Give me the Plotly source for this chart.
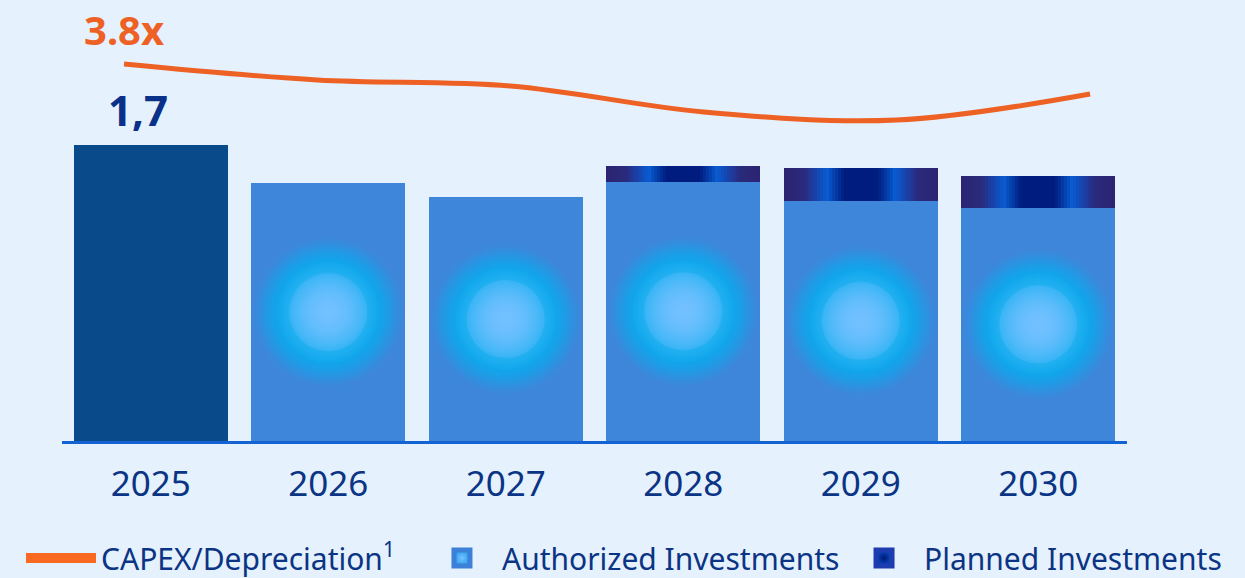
import plotly.graph_objects as go

# ---------------- data ----------------
years = [2025, 2026, 2027, 2028, 2029, 2030]
year_labels = ["2025", "2026", "2027", "2028", "2029", "2030"]
actual_2025 = [1.7, None, None, None, None, None]
authorized = [None, 1.48, 1.40, 1.49, 1.38, 1.34]
planned = [None, None, None, 0.09, 0.19, 0.18]
capex_depreciation = [3.80, 3.64, 3.58, 3.32, 3.24, 3.50]
actual_label = "1,7"
ratio_label = "3.8x"

# ---------------- style ----------------
FONT = "Noto Sans"
BG = "#E5F1FC"
NAVY = "#0B3485"
ORANGE = "#EE6125"
BAR_W = 0.865
PX_PER_UNIT = 177.5  # pixel width of one year on the x axis

fig = go.Figure()

# 2025 actual bar
fig.add_trace(go.Bar(x=years, y=actual_2025, width=BAR_W, marker=dict(color="#094A8A", line=dict(width=0)),
                     showlegend=False, hoverinfo="skip"))

# authorized bars
fig.add_trace(go.Bar(x=years, y=authorized, width=BAR_W, marker=dict(color="#3E86DA", line=dict(width=0)),
                     name="Authorized Investments", showlegend=False, hoverinfo="skip"))

# glow inside authorized bars (radial gradient markers centred on each bar)
gx = [x for x, a in zip(years, authorized) if a is not None]
gy = [a / 2 for a in authorized if a is not None]
cyan = "6,172,238"
light = "114,192,255"
glows = [
    (153, f"rgba({cyan},0)", f"rgba({cyan},0.9)"),
    (150, f"rgba({cyan},0)", f"rgba({cyan},1)"),
    (144, f"rgba({cyan},0)", f"rgba({cyan},1)"),
    (136, f"rgba({cyan},0)", f"rgba({cyan},1)"),
    (126, f"rgba({cyan},0)", f"rgba({cyan},1)"),
    (112, f"rgba({cyan},0)", f"rgba({cyan},1)"),
    (104, f"rgba({light},0)", f"rgba({light},1)"),
    (78, f"rgba({light},0.25)", f"rgba({light},1)"),
]
for size, edge, centre in glows:
    fig.add_trace(go.Scatter(x=gx, y=gy, mode="markers", showlegend=False, hoverinfo="skip",
                             marker=dict(symbol="circle", size=size, color=edge,
                                         line=dict(width=0),
                                         gradient=dict(type="radial", color=centre))))

# planned bars: concentric overlays that build a horizontal gradient
def hex2rgb(h):
    h = h.lstrip("#")
    return tuple(int(h[i:i + 2], 16) for i in (0, 2, 4))

stops = [(0, "#001C7E"), (18, "#001C7E"), (29, "#0544B2"), (35, "#0A5CD2"),
         (45, "#1546B0"), (58, "#2A2A7C"), (80, "#2C2370")]

def profile(d):
    for (d0, c0), (d1, c1) in zip(stops[:-1], stops[1:]):
        if d0 <= d <= d1:
            t = (d - d0) / (d1 - d0)
            a, b = hex2rgb(c0), hex2rgb(c1)
            return "rgb(%d,%d,%d)" % tuple(round(a[i] + (b[i] - a[i]) * t) for i in range(3))
    return stops[-1][1]

half = BAR_W * PX_PER_UNIT / 2
d = half
while d > 2:
    fig.add_trace(go.Bar(x=years, y=planned, base=authorized, width=2 * d / PX_PER_UNIT,
                         marker=dict(color=profile(d), line=dict(width=0)),
                         showlegend=False, hoverinfo="skip"))
    d -= 3

# CAPEX / depreciation line
fig.add_trace(go.Scatter(x=years, y=capex_depreciation, xaxis="x2", yaxis="y2", mode="lines",
                         line=dict(color=ORANGE, width=5, shape="spline", smoothing=1.0),
                         showlegend=False, hoverinfo="skip"))

# legend entries (each in its own legend so they can be placed like the reference)
fig.add_trace(go.Scatter(x=[None], y=[None], mode="lines", name="CAPEX/Depreciation<sup>1</sup>",
                         line=dict(color="#F86A22", width=12), legend="legend"))
fig.add_trace(go.Scatter(x=[None], y=[None], mode="markers", name="Authorized Investments",
                         marker=dict(symbol="square", size=30, color="#2C9BEA",
                                     line=dict(width=5, color="#3C80D8"),
                                     gradient=dict(type="radial", color="#74C4FF")),
                         legend="legend2"))
fig.add_trace(go.Scatter(x=[None], y=[None], mode="markers", name="Planned Investments",
                         marker=dict(symbol="square", size=30, color="#0A4CC8",
                                     line=dict(width=5, color="#1D3CB0"),
                                     gradient=dict(type="radial", color="#001A70")),
                         legend="legend3"))

fig.add_annotation(x=years[0], y=actual_2025[0], xref="x", yref="y", text=f"<b>{actual_label}</b>",
                   showarrow=False, yanchor="middle", yshift=36, xshift=-13,
                   font=dict(family=FONT, size=42, color="#0A318A"))
fig.add_annotation(x=years[0], y=capex_depreciation[0], xref="x2", yref="y2", text=f"<b>{ratio_label}</b>",
                   showarrow=False, yanchor="middle", yshift=35, xshift=0,
                   font=dict(family=FONT, size=40, color=ORANGE))

legend_common = dict(orientation="h", xanchor="left", y=-0.2779, yanchor="middle",
                     font=dict(family=FONT, size=30, color=NAVY),
                     bgcolor="rgba(0,0,0,0)")

fig.update_layout(
    width=1245, height=578,
    margin=dict(l=62, r=118, t=20, b=137, autoexpand=False),
    paper_bgcolor=BG, plot_bgcolor=BG,
    barmode="overlay", bargap=0,
    font=dict(family=FONT, color=NAVY),
    xaxis=dict(range=[2024.5, 2030.5], tickvals=years, ticktext=year_labels,
               tickfont=dict(family=FONT, size=35, color=NAVY), ticklabelstandoff=10,
               showline=True, linecolor="#1463D4", linewidth=2.5,
               showgrid=False, zeroline=False, ticks="", fixedrange=True),
    yaxis=dict(range=[0, 2.418], visible=False, fixedrange=True),
    xaxis2=dict(range=[2024.679, 2030.191], overlaying="x", visible=False, fixedrange=True),
    yaxis2=dict(range=[0.03, 4.24], overlaying="y", visible=False, fixedrange=True),
    legend=dict(x=-0.0385, itemwidth=70, **legend_common),
    legend2=dict(x=0.338, itemwidth=70, **legend_common),
    legend3=dict(x=0.7343, itemwidth=70, **legend_common),
    showlegend=True,
)

fig.write_html("out.html", config={"displayModeBar": False},
               post_script="document.body.style.margin='0';document.body.style.overflow='hidden';")
